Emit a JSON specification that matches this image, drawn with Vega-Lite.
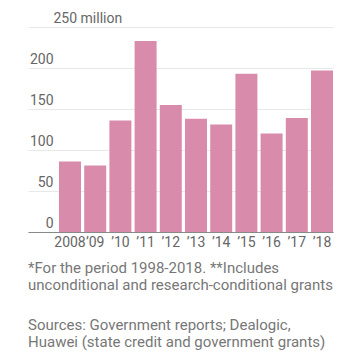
{
  "$schema": "https://vega.github.io/schema/vega-lite/v6.json",
  "width": 305,
  "height": 205,
  "padding": {"left": 28, "top": 11, "right": 10, "bottom": 2},
  "background": "white",
  "config": {"view": {"stroke": null}, "font": "Roboto, sans-serif"},
  "title": {
    "text": ["*For the period 1998-2018. **Includes", "unconditional and research-conditional grants"],
    "subtitle": ["Sources: Government reports; Dealogic,", "Huawei (state credit and government grants)"],
    "orient": "bottom",
    "anchor": "start",
    "fontSize": 15,
    "fontWeight": "normal",
    "color": "#777777",
    "lineHeight": 17,
    "subtitleFontSize": 15,
    "subtitleColor": "#777777",
    "subtitleLineHeight": 17,
    "subtitlePadding": 25,
    "subtitleFont": "Roboto, sans-serif",
    "offset": 12
  },
  "data": {"values": [
    {"label": "2008", "value": 86},
    {"label": "’09", "value": 81},
    {"label": "’10", "value": 136},
    {"label": "’11", "value": 233},
    {"label": "’12", "value": 155},
    {"label": "’13", "value": 138},
    {"label": "’14", "value": 131},
    {"label": "’15", "value": 193},
    {"label": "’16", "value": 120},
    {"label": "’17", "value": 139},
    {"label": "’18", "value": 197}
  ]},
  "mark": {"type": "bar", "color": "#d98bac"},
  "encoding": {
    "x": {
      "field": "label", "type": "ordinal", "sort": null,
      "scale": {"paddingInner": 0.127, "paddingOuter": 0.615, "align": 1},
      "axis": {"title": null, "labelAngle": 0, "ticks": false, "domainColor": "#888888", "labelColor": "#666666", "labelFontSize": 14, "labelPadding": 3}
    },
    "y": {
      "field": "value", "type": "quantitative",
      "scale": {"domain": [0, 250]},
      "axis": {
        "title": null,
        "values": [0, 50, 100, 150, 200, 250],
        "domain": false, "ticks": false,
        "labelPadding": -25,
        "labelBaseline": "bottom",
        "labelOffset": -2,
        "labelFontSize": 14,
        "labelColor": "#666666",
        "gridColor": "#e8e8e8",
        "labelExpr": "datum.value == 250 ? '250 million' : datum.label",
        "labelAlign": {"condition": {"test": "datum.value == 250", "value": "left"}, "value": "right"},
        "encoding": {"labels": {"update": {"dx": {"signal": "datum.value == 250 ? -26 : 0"}}}}
      }
    }
  }
}
